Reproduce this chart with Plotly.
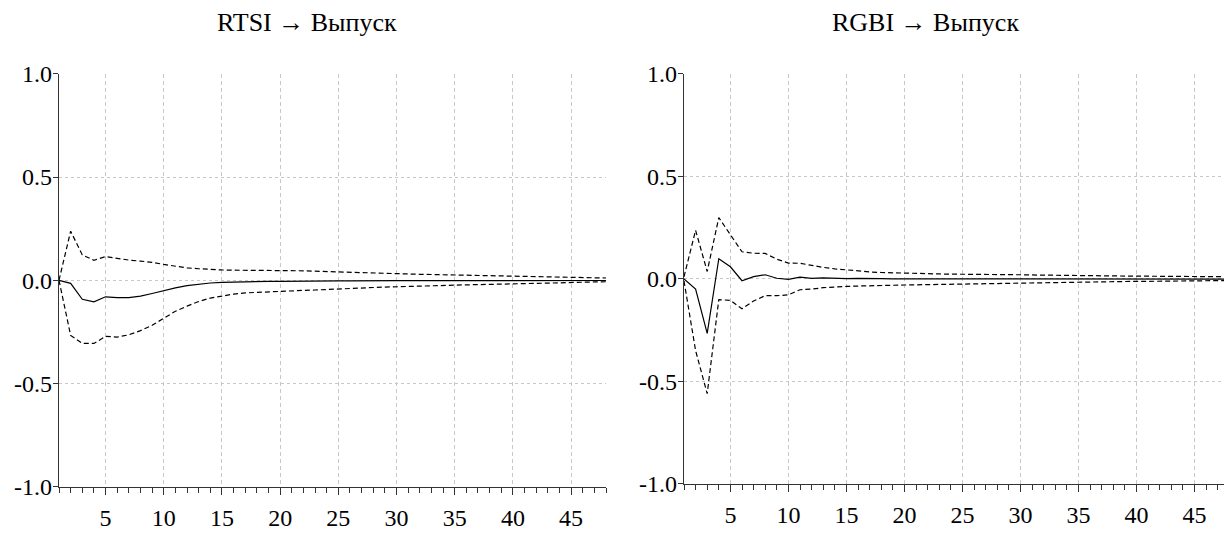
import plotly.graph_objects as go

# Impulse responses of output (Выпуск) to shocks, horizons 1..48
periods = list(range(1, 49))

rtsi_resp = [0.0, -0.015, -0.092, -0.104, -0.080, -0.084, -0.084, -0.077, -0.064, -0.050,
             -0.037, -0.026, -0.018, -0.013, -0.010, -0.008, -0.007, -0.006, -0.005, -0.005,
             -0.004, -0.004, -0.003, -0.003, -0.003, -0.003, -0.002, -0.002, -0.002, -0.002,
             -0.002, -0.002, -0.002, -0.002, -0.001, -0.001, -0.001, -0.001, -0.001, -0.001,
             -0.001, -0.001, -0.001, -0.001, -0.001, -0.001, -0.001, -0.001]
rtsi_upper = [0.0, 0.238, 0.123, 0.097, 0.115, 0.106, 0.098, 0.093, 0.087, 0.077,
              0.067, 0.060, 0.056, 0.052, 0.050, 0.049, 0.049, 0.048, 0.048, 0.048,
              0.047, 0.046, 0.044, 0.042, 0.040, 0.038, 0.036, 0.034, 0.032, 0.031,
              0.030, 0.029, 0.028, 0.027, 0.026, 0.025, 0.024, 0.022, 0.020, 0.019,
              0.018, 0.017, 0.016, 0.015, 0.014, 0.013, 0.012, 0.011]
rtsi_lower = [0.0, -0.267, -0.306, -0.306, -0.272, -0.275, -0.264, -0.244, -0.218, -0.182,
              -0.150, -0.125, -0.103, -0.086, -0.075, -0.067, -0.061, -0.058, -0.055, -0.053,
              -0.051, -0.049, -0.047, -0.044, -0.042, -0.040, -0.038, -0.035, -0.033, -0.031,
              -0.029, -0.028, -0.026, -0.025, -0.023, -0.022, -0.021, -0.019, -0.018, -0.017,
              -0.016, -0.015, -0.013, -0.012, -0.012, -0.010, -0.008, -0.007]

rgbi_resp = [0.0, -0.050, -0.266, 0.098, 0.059, -0.009, 0.011, 0.020, 0.003, -0.002,
             0.008, 0.002, 0.005, 0.002, 0.001, 0.002, 0.000, 0.001, 0.000, 0.000,
             0.000, 0.000, 0.000, 0.000, 0.000, 0.000, 0.000, 0.000, 0.000, 0.000,
             -0.001, -0.001, -0.001, -0.001, -0.001, -0.001, -0.001, -0.001, -0.001, -0.001,
             -0.001, -0.001, -0.001, -0.001, -0.001, -0.001, -0.001, -0.001]
rgbi_upper = [0.010, 0.237, 0.036, 0.299, 0.215, 0.132, 0.125, 0.124, 0.096, 0.077,
              0.076, 0.065, 0.056, 0.049, 0.043, 0.038, 0.034, 0.031, 0.029, 0.027,
              0.026, 0.025, 0.024, 0.023, 0.023, 0.022, 0.022, 0.021, 0.020, 0.020,
              0.019, 0.018, 0.017, 0.016, 0.015, 0.015, 0.014, 0.014, 0.013, 0.013,
              0.013, 0.012, 0.012, 0.012, 0.011, 0.011, 0.011, 0.011]
rgbi_lower = [-0.010, -0.350, -0.560, -0.101, -0.105, -0.146, -0.108, -0.082, -0.082, -0.078,
              -0.053, -0.050, -0.043, -0.039, -0.037, -0.035, -0.033, -0.032, -0.031, -0.030,
              -0.029, -0.028, -0.027, -0.025, -0.024, -0.023, -0.022, -0.021, -0.020, -0.020,
              -0.019, -0.018, -0.018, -0.017, -0.016, -0.015, -0.014, -0.014, -0.013, -0.012,
              -0.012, -0.011, -0.010, -0.010, -0.009, -0.009, -0.008, -0.008]

panel_titles = ["RTSI \u2192 Выпуск", "RGBI \u2192 Выпуск"]
x_ticks = [5, 10, 15, 20, 25, 30, 35, 40, 45]
y_ticks = [-1.0, -0.5, 0.0, 0.5, 1.0]
y_tick_text = ["-1.0", "-0.5", "0.0", "0.5", "1.0"]

FONT = "Liberation Serif"
W, H = 1224, 533

fig = go.Figure()

panels = [
    ("x", "y", rtsi_resp, rtsi_upper, rtsi_lower),
    ("x2", "y2", rgbi_resp, rgbi_upper, rgbi_lower),
]
for xa, ya, resp, up, lo in panels:
    for vals, dash in ((up, "5px,3px"), (lo, "5px,3px"), (resp, "solid")):
        fig.add_trace(go.Scatter(
            x=periods, y=vals, xaxis=xa, yaxis=ya, mode="lines",
            line=dict(color="black", width=1.2, dash=dash),
            showlegend=False, hoverinfo="skip",
        ))

def x_axis(domain, rng):
    return dict(
        domain=domain, range=rng, tickvals=x_ticks, ticktext=[str(v) for v in x_ticks],
        ticks="outside", ticklen=7, tickwidth=1, tickcolor="#333",
        showline=True, linecolor="#333", linewidth=1.2,
        showgrid=True, gridcolor="#c8c8c8", gridwidth=1, griddash="4px,3px",
        zeroline=False,
        minor=dict(dtick=1, tick0=0, ticks="outside", ticklen=5, tickcolor="#333",
                   tickwidth=1, showgrid=False),
        tickfont=dict(family=FONT, size=24, color="black"),
        ticklabelstandoff=2,
        fixedrange=True,
    )

def y_axis(domain, anchor):
    return dict(
        domain=domain, range=[-1.0, 1.0], anchor=anchor,
        tickvals=y_ticks, ticktext=y_tick_text,
        ticks="outside", ticklen=5, tickwidth=1, tickcolor="#333",
        showline=True, linecolor="#333", linewidth=1.2,
        showgrid=True, gridcolor="#c8c8c8", gridwidth=1, griddash="dot",
        zeroline=False,
        tickfont=dict(family=FONT, size=24, color="black"),
        ticklabelstandoff=-4,
        fixedrange=True,
    )

title_font = dict(family=FONT, size=26, color="black")

fig.update_layout(
    width=W, height=H,
    margin=dict(l=0, r=0, t=0, b=0),
    paper_bgcolor="white", plot_bgcolor="white",
    font=dict(family=FONT, size=24, color="black"),
    xaxis=x_axis([59 / W, 606 / W], [1, 48]) | dict(anchor="y"),
    yaxis=y_axis([1 - 498 / H, 1 - 64 / H], "x"),
    xaxis2=x_axis([684 / W, 1.0], [1, 47.55]) | dict(anchor="y2"),
    yaxis2=y_axis([1 - 495 / H, 1 - 64 / H], "x2"),
    annotations=[
        dict(text=panel_titles[0], x=307 / W, y=1 - 10 / H, xref="paper", yref="paper",
             showarrow=False, font=title_font, xanchor="center", yanchor="middle"),
        dict(text=panel_titles[1], x=925 / W, y=1 - 10 / H, xref="paper", yref="paper",
             showarrow=False, font=title_font, xanchor="center", yanchor="middle"),
    ],
)

fig.write_html("out.html")
